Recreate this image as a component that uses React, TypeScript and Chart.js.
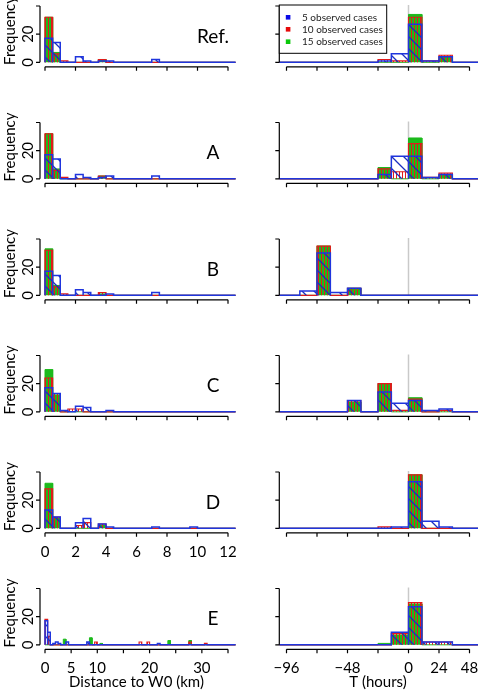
import React, { useEffect, useRef } from 'react';
import { Chart, registerables } from 'chart.js';
Chart.register(...registerables);

// ---------------- data ----------------
const seriesNames = ['5 observed cases', '10 observed cases', '15 observed cases'];
const panelLabels = ['Ref.', 'A', 'B', 'C', 'D', 'E'];

const freqTicks = [0, 20, 40];
const freqTickLabels = ['0', '20', ''];
const distTicks = [0, 2, 4, 6, 8, 10, 12];
const distTickLabels = ['0', '2', '4', '6', '8', '10', '12'];
const distTicksE = [0, 5, 10, 15, 20, 25, 30, 35];
const distTickLabelsE = ['0', '5', '10', '', '20', '', '30', ''];
const hourTicks = [-96, -72, -48, -24, 0, 24, 48];
const hourTickLabels = ['\u221296', '', '\u221248', '', '0', '24', '48'];

// distance histograms (bin width 0.5 km): [bin start km, count]
const distBinWidth = 0.5;
const refDist5 = [[0, 17], [0.5, 14], [2, 4], [2.5, 1], [3.5, 1], [4, 1], [7, 2]];
const refDist10 = [[0, 32], [0.5, 6], [1, 1], [3.5, 2]];
const refDist15 = [[0, 32], [0.5, 7], [3.5, 2]];
const aDist5 = [[0, 17], [0.5, 14], [2, 3], [2.5, 1], [3.5, 1], [4, 2], [7, 2]];
const aDist10 = [[0, 32], [0.5, 6], [1, 1], [3.5, 2]];
const aDist15 = [[0, 32], [0.5, 7], [3.5, 2]];
const bDist5 = [[0, 17], [0.5, 14], [2, 4], [2.5, 2], [4, 1], [7, 2]];
const bDist10 = [[0, 32], [0.5, 6], [1, 1], [3.5, 2]];
const bDist15 = [[0, 33], [0.5, 7], [3.5, 1]];
const cDist5 = [[0, 17], [0.5, 13], [1, 1], [2, 4], [2.5, 3], [4, 1]];
const cDist10 = [[0, 24], [0.5, 13], [1.5, 2], [2, 2]];
const cDist15 = [[0, 30], [0.5, 12]];
const dDist5 = [[0, 13], [0.5, 8], [2, 4], [2.5, 7], [3.5, 3], [4, 1], [7, 1], [9.5, 1]];
const dDist10 = [[0, 28], [0.5, 8], [2, 2], [2.5, 4], [3.5, 3]];
const dDist15 = [[0, 32], [0.5, 7], [3.5, 2]];
const eDist5 = [[0, 17], [0.5, 9], [1.5, 1], [2, 2], [2.5, 1], [4, 2], [8, 2], [21.5, 1]];
const eDist10 = [[0, 18], [0.5, 6], [9.5, 2], [18, 2], [19.5, 2], [27.5, 2], [30.5, 1]];
const eDist15 = [[3.5, 4], [8.5, 5], [10.5, 1], [23.5, 3], [27.5, 3]];

// time histograms (hours): bin edges and counts per bin
const hourEdges = [-109.5, -96, -85.5, -72, -61.5, -48, -37.5, -24, -13.5, 0, 10.5, 24, 34.5, 48, 58.5];
const refTime5 = [0, 0, 0, 0, 0, 0, 0, 1, 6, 27, 1, 4, 0, 0];
const refTime10 = [0, 0, 0, 0, 0, 0, 0, 2, 1, 32, 1, 5, 0, 0];
const refTime15 = [0, 0, 0, 0, 0, 0, 0, 0, 0, 34, 0, 4, 0, 0];
const aTime5 = [0, 0, 0, 0, 0, 0, 0, 3, 16, 16, 1, 3, 0, 0];
const aTime10 = [0, 0, 0, 0, 0, 0, 0, 7, 5, 25, 1, 4, 0, 0];
const aTime15 = [0, 0, 0, 0, 0, 0, 0, 8, 0, 29, 0, 3, 0, 0];
const bTime5 = [0, 0, 3, 30, 2, 5, 0, 0, 0, 0, 0, 0, 0, 0];
const bTime10 = [0, 0, 0, 35, 0, 5, 0, 0, 0, 0, 0, 0, 0, 0];
const bTime15 = [0, 0, 0, 35, 0, 5, 0, 0, 0, 0, 0, 0, 0, 0];
const cTime5 = [0, 0, 0, 0, 0, 8, 0, 14, 6, 8, 1, 2, 0, 0];
const cTime10 = [0, 0, 0, 0, 0, 8, 0, 20, 1, 9, 0, 1, 0, 0];
const cTime15 = [0, 0, 0, 0, 0, 7, 0, 20, 0, 10, 0, 0, 0, 0];
const dTime5 = [0, 0, 0, 0, 0, 0, 0, 0, 1, 33, 5, 1, 0, 0];
const dTime10 = [0, 0, 0, 0, 0, 0, 0, 1, 0, 38, 0, 0, 0, 0];
const dTime15 = [0, 0, 0, 0, 0, 0, 0, 0, 0, 38, 0, 0, 0, 0];
const eTime5 = [0, 0, 0, 0, 0, 0, 0, 0, 9, 27, 2, 2, 0, 0];
const eTime10 = [0, 0, 0, 0, 0, 0, 0, 0, 8, 30, 2, 2, 0, 0];
const eTime15 = [0, 0, 0, 0, 0, 0, 0, 1, 7, 29, 0, 0, 0, 0];

const distRows = [
  [refDist5, refDist10, refDist15],
  [aDist5, aDist10, aDist15],
  [bDist5, bDist10, bDist15],
  [cDist5, cDist10, cDist15],
  [dDist5, dDist10, dDist15],
  [eDist5, eDist10, eDist15],
];
const timeRows = [
  [refTime5, refTime10, refTime15],
  [aTime5, aTime10, aTime15],
  [bTime5, bTime10, bTime15],
  [cTime5, cTime10, cTime15],
  [dTime5, dTime10, dTime15],
  [eTime5, eTime10, eTime15],
];

// ---------------- styling / geometry ----------------
const FONT = 'Lato, "Liberation Sans", sans-serif';
const BLUE = '#1f35dd';
const RED = '#e01b1b';
const GREEN = '#1cba1c';
const ROW_PITCH = 116.5;
const ZERO0 = 62.3;
const KY = 1.4075;
const YMIN = -3.2;
const YMAX = 40;
const OVERLAP = 16;

type Bin = { lo: number; hi: number; n: number };

function sparseBins(pairs: number[][], w: number): Bin[] {
  return pairs.map(([s, n]) => ({ lo: s, hi: s + w, n })).sort((a, b) => a.lo - b.lo);
}
function denseBins(edges: number[], counts: number[]): Bin[] {
  const out: Bin[] = [];
  counts.forEach((n, i) => {
    if (n > 0) out.push({ lo: edges[i], hi: edges[i + 1], n });
  });
  return out;
}
function histPoints(bins: Bin[], start: number, end: number) {
  const pts: { x: number; y: number }[] = [{ x: start, y: 0 }];
  for (const b of bins) {
    pts.push({ x: b.lo, y: 0 }, { x: b.lo, y: b.n }, { x: b.hi, y: b.n }, { x: b.hi, y: 0 });
  }
  pts.push({ x: end, y: 0 });
  return pts;
}

function makeStripe(ctx: CanvasRenderingContext2D) {
  const c = document.createElement('canvas');
  c.width = 3; c.height = 4;
  const g = c.getContext('2d')!;
  g.fillStyle = RED;
  g.fillRect(0, 0, 1, 4);
  return ctx.createPattern(c, 'repeat');
}
function makeDiag(ctx: CanvasRenderingContext2D) {
  const s = 12;
  const c = document.createElement('canvas');
  c.width = s; c.height = s;
  const g = c.getContext('2d')!;
  g.strokeStyle = '#1a2ec0';
  g.lineWidth = 1.3;
  g.beginPath();
  g.moveTo(-1, -1); g.lineTo(s + 1, s + 1);
  g.moveTo(s - 1, -1); g.lineTo(s + 1, 1);
  g.moveTo(-1, s - 1); g.lineTo(1, s + 1);
  g.stroke();
  return ctx.createPattern(c, 'repeat');
}

const rAxes = {
  id: 'rAxes',
  beforeDatasetsDraw(chart: any, _a: any, o: any) {
    if (!o.zeroLine) return;
    const { ctx } = chart;
    const xs = chart.scales.x, ys = chart.scales.y;
    const x = xs.getPixelForValue(0);
    ctx.save();
    ctx.strokeStyle = '#c9c9c9';
    ctx.lineWidth = 1.5;
    ctx.beginPath();
    ctx.moveTo(x, ys.getPixelForValue(0));
    ctx.lineTo(x, ys.getPixelForValue(YMAX) - 1);
    ctx.stroke();
    ctx.restore();
  },
  afterDraw(chart: any, _a: any, o: any) {
    const { ctx, chartArea: ca } = chart;
    const xs = chart.scales.x, ys = chart.scales.y;
    const zero = ys.getPixelForValue(0);
    ctx.save();
    ctx.strokeStyle = '#000';
    ctx.fillStyle = '#000';
    ctx.lineWidth = 1.2;
    // y axis
    ctx.beginPath();
    ctx.moveTo(ca.left, ys.getPixelForValue(freqTicks[0]));
    ctx.lineTo(ca.left, ys.getPixelForValue(freqTicks[freqTicks.length - 1]));
    freqTicks.forEach((v) => {
      const y = ys.getPixelForValue(v);
      ctx.moveTo(ca.left, y); ctx.lineTo(ca.left - 4, y);
    });
    // x axis
    const xt: number[] = o.xTicks;
    const yb = ca.bottom;
    ctx.moveTo(xs.getPixelForValue(xt[0]), yb);
    ctx.lineTo(xs.getPixelForValue(xt[xt.length - 1]), yb);
    xt.forEach((v) => {
      const x = xs.getPixelForValue(v);
      ctx.moveTo(x, yb); ctx.lineTo(x, yb + 4);
    });
    ctx.stroke();

    ctx.font = `15px ${FONT}`;
    if (o.yLabels) {
      freqTicks.forEach((v, i) => {
        const t = freqTickLabels[i];
        if (!t) return;
        ctx.save();
        ctx.translate(28, ys.getPixelForValue(v));
        ctx.rotate(-Math.PI / 2);
        ctx.textAlign = 'center';
        ctx.textBaseline = 'middle';
        ctx.fillText(t, 0, 0);
        ctx.restore();
      });
      ctx.save();
      ctx.translate(10.5, zero - 31.8);
      ctx.rotate(-Math.PI / 2);
      ctx.textAlign = 'center';
      ctx.textBaseline = 'middle';
      ctx.fillText('Frequency', 0, 0);
      ctx.restore();
    }
    if (o.xLabels) {
      ctx.textAlign = 'center';
      ctx.textBaseline = 'alphabetic';
      xt.forEach((v, i) => {
        const t = o.xLabels[i];
        if (t) ctx.fillText(t, xs.getPixelForValue(v), zero + 28.5);
      });
    }
    if (o.xTitle) {
      ctx.textAlign = 'center';
      ctx.textBaseline = 'alphabetic';
      ctx.fillText(o.xTitle, o.xTitleX, zero + 42.5);
    }
    if (o.panelLabel) {
      ctx.font = `19px ${FONT}`;
      ctx.textAlign = 'center';
      ctx.textBaseline = 'alphabetic';
      ctx.fillText(o.panelLabel, 213, zero - 19.5);
    }
    if (o.legend) {
      const bx = ca.left, by = 5, bw = 107.4, bh = 48.3;
      ctx.fillStyle = '#fff';
      ctx.fillRect(bx, by, bw, bh);
      ctx.strokeStyle = '#000';
      ctx.lineWidth = 1;
      ctx.strokeRect(bx, by, bw, bh);
      const cols = ['#0a0ae6', '#e60a0a', '#0ac80a'];
      const rowsY = [17.3, 29.3, 41.7];
      ctx.font = `10px ${FONT}`;
      ctx.textAlign = 'left';
      ctx.textBaseline = 'middle';
      seriesNames.forEach((name, i) => {
        ctx.fillStyle = cols[i];
        ctx.fillRect(bx + 6.5, rowsY[i] - 2.3, 4.6, 4.6);
        ctx.fillStyle = '#222';
        ctx.fillText(name, bx + 22.7, rowsY[i] + 0.5);
      });
    }
    ctx.restore();
  },
};

type PanelProps = { row: number; side: 'dist' | 'time' };

function Panel({ row, side }: PanelProps) {
  const ref = useRef<HTMLCanvasElement>(null);
  const extra = row === 0 ? 0 : OVERLAP;
  const top = Math.round(ROW_PITCH * row) - extra;
  const nextTop = row < 5 ? Math.round(ROW_PITCH * (row + 1)) : 692;
  const H = nextTop - top;
  const W = side === 'dist' ? 240 : 241;
  const left = side === 'dist' ? 0 : 240;
  const zeroLocal = ZERO0 + ROW_PITCH * row - top;
  const padTop = zeroLocal - YMAX * KY;
  const padBottom = H - (zeroLocal - YMIN * KY);

  useEffect(() => {
    const canvas = ref.current!;
    const ctx = canvas.getContext('2d')!;
    const stripe = makeStripe(ctx);
    const diag = makeDiag(ctx);
    let bins: Bin[][];
    let xMin: number, xMax: number, start: number, end: number, padLeft: number, padRight: number;
    let pluginOpts: any;
    if (side === 'dist') {
      const isE = row === 5;
      const pxPer = isE ? 183 / 35 : 183 / 12;
      padLeft = 40;
      padRight = 4.4;
      xMin = -5 / pxPer;
      xMax = (W - padRight - 45) / pxPer;
      start = 0;
      end = xMax + 1;
      bins = distRows[row].map((p) => sparseBins(p, distBinWidth));
      pluginOpts = {
        xTicks: isE ? distTicksE : distTicks,
        xLabels: isE ? distTickLabelsE : row === 4 ? distTickLabels : null,
        yLabels: true,
        panelLabel: panelLabels[row],
        xTitle: isE ? 'Distance to W0 (km)' : null,
        xTitleX: 136.5,
      };
    } else {
      const pxPer = 30.5 / 24;
      padLeft = 39.3;
      padRight = 3;
      const zx = 168.5;
      xMin = (padLeft - zx) / pxPer;
      xMax = (W - padRight - zx) / pxPer;
      start = hourEdges[0];
      end = hourEdges[hourEdges.length - 1];
      bins = timeRows[row].map((c) => denseBins(hourEdges, c));
      pluginOpts = {
        xTicks: hourTicks,
        xLabels: row === 5 ? hourTickLabels : null,
        yLabels: false,
        zeroLine: true,
        legend: row === 0,
        xTitle: row === 5 ? 'T (hours)' : null,
        xTitleX: 138,
      };
    }
    const styles = [
      { borderColor: BLUE, borderWidth: 1.5, backgroundColor: diag, order: 1 },
      { borderColor: RED, borderWidth: 1.2, backgroundColor: stripe, order: 2 },
      { borderColor: GREEN, borderWidth: 1, backgroundColor: GREEN, order: 3 },
    ];
    const chart = new Chart(canvas, {
      type: 'line',
      data: {
        datasets: bins.map((b, i) => ({
          label: seriesNames[i],
          data: histPoints(b, start, end),
          ...styles[i],
          fill: 'origin',
          pointRadius: 0,
          pointHoverRadius: 0,
          tension: 0,
          borderJoinStyle: 'miter',
        })),
      } as any,
      options: {
        responsive: false,
        maintainAspectRatio: false,
        animation: false,
        events: [],
        layout: { padding: { left: padLeft, right: padRight, top: padTop, bottom: padBottom } },
        scales: {
          x: { type: 'linear', min: xMin, max: xMax, display: false },
          y: { type: 'linear', min: YMIN, max: YMAX, display: false },
        },
        plugins: {
          legend: { display: false },
          tooltip: { enabled: false },
          rAxes: pluginOpts,
        } as any,
      },
      plugins: [rAxes as any],
    });
    return () => chart.destroy();
  }, [row, side]);

  return (
    <canvas
      ref={ref}
      width={W}
      height={H}
      style={{ position: 'absolute', left, top, width: W, height: H }}
    />
  );
}

export default function App() {
  const rowsIdx = [0, 1, 2, 3, 4, 5];
  return (
    <div style={{ position: 'absolute', left: 0, top: 0, width: 481, height: 692, background: '#fff', overflow: 'hidden' }}>
      {rowsIdx.map((r) => (
        <React.Fragment key={r}>
          <Panel row={r} side="dist" />
          <Panel row={r} side="time" />
        </React.Fragment>
      ))}
    </div>
  );
}
